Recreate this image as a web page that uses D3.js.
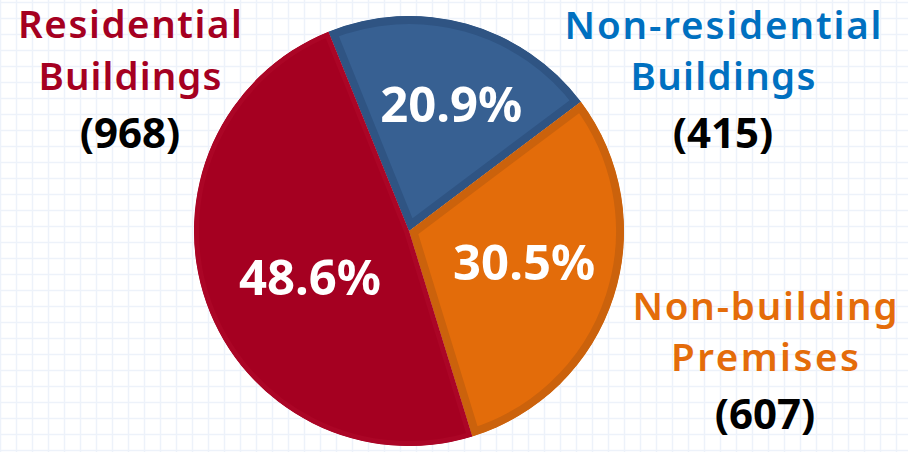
<!DOCTYPE html>
<html>
    <head>
        <meta charset="utf-8">
        <title>Premises by type</title>
        <script type="text/javascript" src="https://cdn.jsdelivr.net/npm/d3@7"></script>
        <style>
            body { margin: 0; background: #ffffff; }
            svg { display: block; }
        </style>
    </head>
    <body>
        <svg id="svg"></svg>

        <script>
            var WIDTH = 908;
            var HEIGHT = 452;

            // data, in clockwise order starting at the top-left boundary
            var categories = ["Non-residential Buildings", "Non-building Premises", "Residential Buildings"];
            var nameLines = [["Non-residential", "Buildings"], ["Non-building", "Premises"], ["Residential", "Buildings"]];
            var counts = [415, 607, 968];
            var percentLabels = ["20.9%", "30.5%", "48.6%"];

            // styles
            var fills = ["#376092", "#e36c0a", "#a50021"];
            var borders = ["#2f5483", "#cb620c", "#ab0526"];
            var borderWidths = [8, 8, 5];
            var nameColors = ["#0070c0", "#e46c0a", "#a50021"];

            // where the outside labels sit (center x, first baseline) and how wide each name line runs
            var labelPos = [{x: 723, y: 38.5}, {x: 765, y: 319.5}, {x: 130, y: 38}];
            var lineWidths = [[317, 185], [265, 188], [224, 183]];
            var pctNudge = [{dx: 10, dy: -11}, {dx: 1, dy: -6}, {dx: 14, dy: 6}];

            var CX = 409, CY = 231, R = 215;

            var svg = d3.select("#svg")
                        .attr("width", WIDTH)
                        .attr("height", HEIGHT)

            // faint grid paper behind the chart
            var grid = svg.append("g").attr("stroke", "#edf2fa").attr("stroke-width", 1.5)
            grid.selectAll("line.v")
                .data(d3.range(0.5, WIDTH, 16))
                .enter()
                .append("line")
                .attr("class", "v")
                .attr("x1", function(d){ return d })
                .attr("x2", function(d){ return d })
                .attr("y1", 0)
                .attr("y2", HEIGHT)
            grid.selectAll("line.h")
                .data(d3.range(2.5, HEIGHT, 16))
                .enter()
                .append("line")
                .attr("class", "h")
                .attr("y1", function(d){ return d })
                .attr("y2", function(d){ return d })
                .attr("x1", 0)
                .attr("x2", WIDTH)

            var pie = d3.pie()
                        .sort(null)
                        .value(function(d){ return d })
                        .startAngle(-22 * Math.PI / 180)
                        .endAngle((360 - 22) * Math.PI / 180)
            var arcs = pie(counts)

            var arc = d3.arc().innerRadius(0).outerRadius(R)
            var labelArc = d3.arc().innerRadius(120).outerRadius(120)

            var chart = svg.append("g").attr("transform", "translate(" + CX + "," + CY + ")")

            // clip each slice to itself so the border only shows on the inside
            var defs = svg.append("defs")
            defs.selectAll("clipPath")
                .data(arcs)
                .enter()
                .append("clipPath")
                .attr("id", function(d, i){ return "clip" + i })
                .append("path")
                .attr("d", arc)

            chart.selectAll("path.slice")
                 .data(arcs)
                 .enter()
                 .append("path")
                 .attr("class", "slice")
                 .attr("d", arc)
                 .attr("fill", function(d, i){ return fills[i] })
                 .attr("stroke", function(d, i){ return borders[i] })
                 .attr("stroke-width", function(d, i){ return borderWidths[i] * 2 })
                 .attr("stroke-linejoin", "round")
                 .attr("clip-path", function(d, i){ return "url(#clip" + i + ")" })

            chart.selectAll("text.pct")
                 .data(arcs)
                 .enter()
                 .append("text")
                 .attr("class", "pct")
                 .attr("x", function(d, i){ return labelArc.centroid(d)[0] + pctNudge[i].dx })
                 .attr("y", function(d, i){ return labelArc.centroid(d)[1] + pctNudge[i].dy + 18 })
                 .attr("text-anchor", "middle")
                 .attr("font-family", "'Noto Sans', sans-serif")
                 .attr("font-weight", 700)
                 .attr("font-size", "49px")
                 .attr("fill", "#ffffff")
                 .text(function(d, i){ return percentLabels[i] })

            // category names with counts underneath
            var labels = svg.selectAll("g.label")
                            .data(categories)
                            .enter()
                            .append("g")
                            .attr("class", "label")
                            .attr("transform", function(d, i){ return "translate(" + labelPos[i].x + "," + labelPos[i].y + ")" })
            labels.each(function(d, i){
                var g = d3.select(this)
                nameLines[i].forEach(function(line, j){
                    g.append("text")
                     .attr("y", j * 51.5)
                     .attr("text-anchor", "middle")
                     .attr("font-family", "'Noto Sans', sans-serif")
                     .attr("font-weight", 600)
                     .attr("font-size", "38.5px")
                     .attr("textLength", lineWidths[i][j])
                     .attr("lengthAdjust", "spacing")
                     .attr("fill", nameColors[i])
                     .text(line)
                })
                g.append("text")
                 .attr("y", 109.5)
                 .attr("text-anchor", "middle")
                 .attr("font-family", "'Noto Sans', sans-serif")
                 .attr("font-weight", 700)
                 .attr("font-size", "42px")
                 .attr("fill", "#000000")
                 .text("(" + counts[i] + ")")
            })
        </script>
    </body>
</html>
